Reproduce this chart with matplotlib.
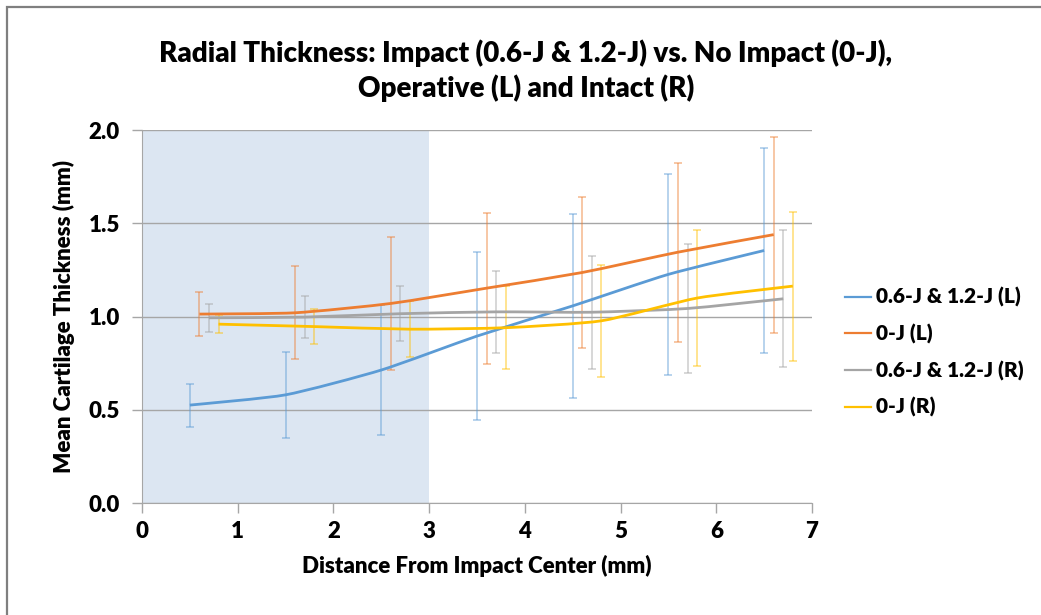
import matplotlib.pyplot as plt
from matplotlib.path import Path
from matplotlib.patches import PathPatch, Rectangle
from matplotlib.lines import Line2D

# values (mm)
dist_L_imp = [0.5, 1.5, 2.5, 3.5, 4.5, 5.5, 6.5]
mean_L_imp = [0.525, 0.58, 0.713, 0.895, 1.057, 1.226, 1.354]
err_L_imp = [0.115, 0.232, 0.347, 0.45, 0.494, 0.54, 0.551]

dist_L_0 = [0.6, 1.6, 2.6, 3.6, 4.6, 5.6, 6.6]
mean_L_0 = [1.013, 1.02, 1.07, 1.152, 1.236, 1.345, 1.439]
err_L_0 = [0.12, 0.249, 0.357, 0.405, 0.405, 0.48, 0.526]

dist_R_imp = [0.7, 1.7, 2.7, 3.7, 4.7, 5.7, 6.7]
mean_R_imp = [0.993, 0.997, 1.015, 1.025, 1.023, 1.043, 1.095]
err_R_imp = [0.074, 0.112, 0.148, 0.22, 0.303, 0.346, 0.367]

dist_R_0 = [0.8, 1.8, 2.8, 3.8, 4.8, 5.8, 6.8]
mean_R_0 = [0.959, 0.946, 0.932, 0.94, 0.977, 1.099, 1.163]
err_R_0 = [0.049, 0.093, 0.151, 0.223, 0.30, 0.364, 0.40]

labels = ["0.6-J & 1.2-J (L)", "0-J (L)", "0.6-J & 1.2-J (R)", "0-J (R)"]
colors = ["#5B9BD5", "#ED7D31", "#A5A5A5", "#FFC000"]

plt.rcParams['font.family'] = ['Lato', 'DejaVu Sans']
plt.rcParams['font.weight'] = 'heavy'
W = 'heavy'


def smooth_path(xs, ys, k=10.0):
    # excel style smoothed line: cubic bezier through each point
    pts = list(zip(xs, ys))
    n = len(pts)
    verts = [pts[0]]
    codes = [Path.MOVETO]
    for i in range(n - 1):
        p0 = pts[i - 1] if i > 0 else pts[i]
        p1 = pts[i]
        p2 = pts[i + 1]
        p3 = pts[i + 2] if i + 2 < n else pts[i + 1]
        c1 = (p1[0] + (p2[0] - p0[0]) / k, p1[1] + (p2[1] - p0[1]) / k)
        c2 = (p2[0] - (p3[0] - p1[0]) / k, p2[1] - (p3[1] - p1[1]) / k)
        verts += [c1, c2, p2]
        codes += [Path.CURVE4] * 3
    return Path(verts, codes)


fig = plt.figure(figsize=(10.41, 6.15), dpi=100)
ax = fig.add_axes([0.1364, 0.1821, 0.6436, 0.6065])

# chart border
fig.patches.append(Rectangle((7 / 1041, -0.1), 1.2, 1.1 - 7 / 615, transform=fig.transFigure,
                             fill=False, edgecolor="#7f7f7f", linewidth=1.6))

ax.axvspan(0, 3, color="#dce6f2", zorder=0.2, linewidth=0)

series = [(dist_L_imp, mean_L_imp, err_L_imp),
          (dist_L_0, mean_L_0, err_L_0),
          (dist_R_imp, mean_R_imp, err_R_imp),
          (dist_R_0, mean_R_0, err_R_0)]

handles = []
for (xs, ys, es), c, lab in zip(series, colors, labels):
    ax.errorbar(xs, ys, yerr=es, fmt='none', ecolor=c, alpha=0.55,
                elinewidth=1.1, capsize=3, capthick=1.1, zorder=2)
    ax.add_patch(PathPatch(smooth_path(xs, ys), fill=False, edgecolor=c,
                           linewidth=2.0, zorder=3))
    handles.append(Line2D([], [], color=c, linewidth=1.6, label=lab))

ax.set_xlim(0, 7)
ax.set_ylim(0, 2)
ax.set_xticks(range(0, 8))
ax.set_yticks([0, 0.5, 1.0, 1.5, 2.0])
ax.set_yticklabels(["0.0", "0.5", "1.0", "1.5", "2.0"])
ax.set_axisbelow(True)
ax.yaxis.grid(True, color="#a6a6a6", linewidth=1)
for s in ["top", "right"]:
    ax.spines[s].set_visible(False)
for s in ["left", "bottom"]:
    ax.spines[s].set_color("#a6a6a6")
ax.tick_params(axis='both', colors="#a6a6a6", length=7, width=1,
               labelcolor="black", labelsize=16)
ax.tick_params(axis='x', pad=6)
ax.tick_params(axis='y', pad=9)
for t in ax.get_xticklabels() + ax.get_yticklabels():
    t.set_fontweight(W)

ax.set_xlabel("Distance From Impact Center (mm)", fontsize=16, fontweight=W, labelpad=9)
ax.set_ylabel("Mean Cartilage Thickness (mm)", fontsize=16, fontweight=W, labelpad=10)

fig.text(0.505, 0.913, "Radial Thickness: Impact (0.6-J & 1.2-J) vs. No Impact (0-J),",
         ha='center', va='center', fontsize=20, fontweight=W)
fig.text(0.505, 0.857, "Operative (L) and Intact (R)",
         ha='center', va='center', fontsize=20, fontweight=W)

ax.legend(handles=handles, loc='center left', bbox_to_anchor=(0.794, 0.427),
          bbox_transform=fig.transFigure, frameon=False,
          prop={'size': 15, 'weight': W},
          handlelength=1.25, handletextpad=0.2, labelspacing=0.8)

fig.savefig("out.png", dpi=100)
